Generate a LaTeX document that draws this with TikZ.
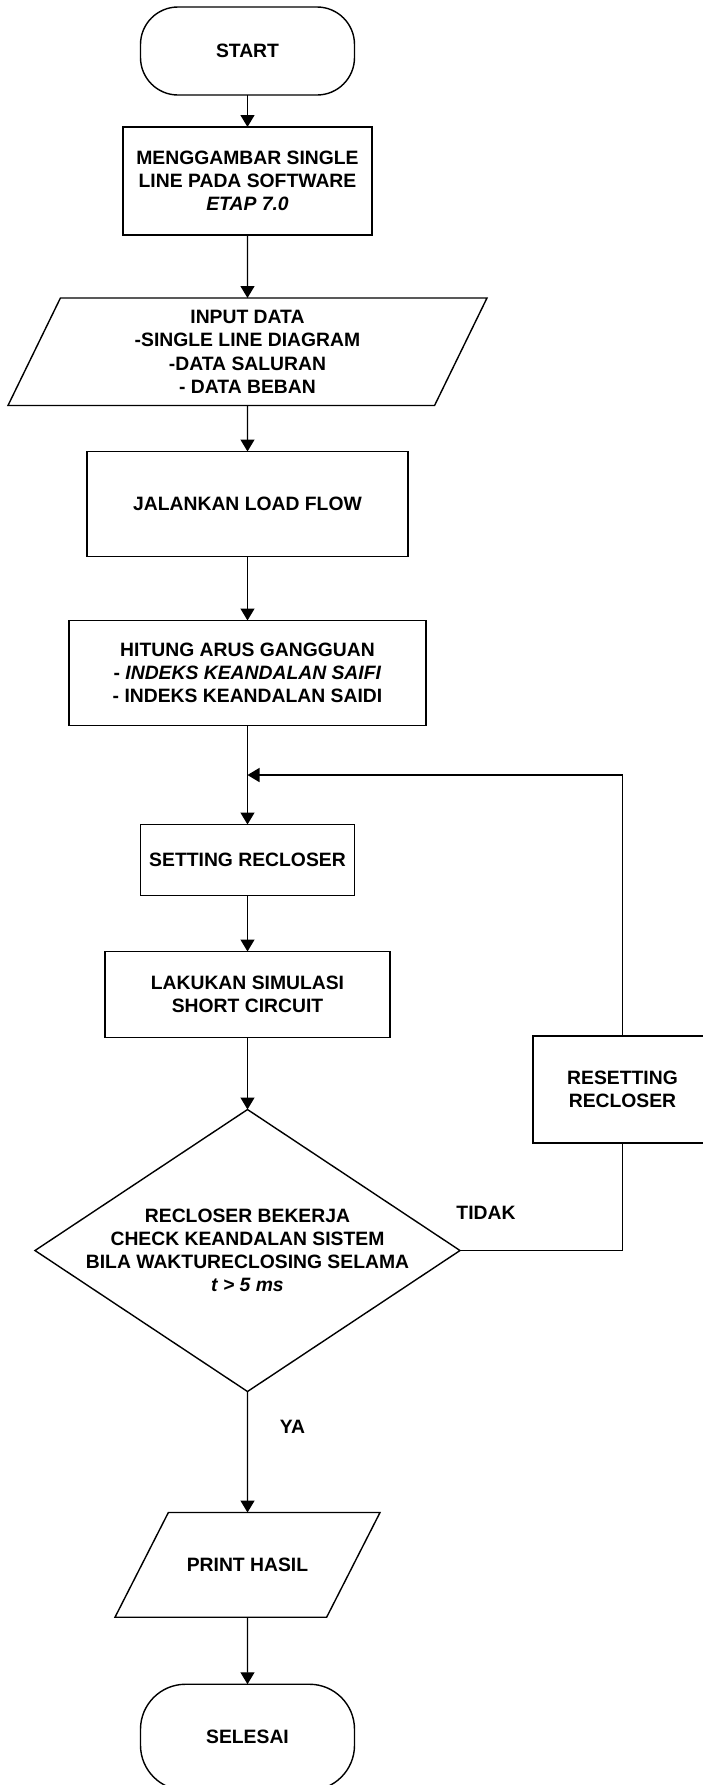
\documentclass[tikz,border=0pt]{standalone}
\usepackage{fontspec}
\setmainfont{Liberation Sans}
\usetikzlibrary{arrows.meta}
\usetikzlibrary{positioning, shapes.geometric, calc}

\begin{document}
\begin{tikzpicture}[
  >={Triangle[length=2.4mm,width=2.8mm]}, line width=0.8pt,
  every node/.style={font=\bfseries\fontsize{11}{13.2}\selectfont,
    align=center, outer sep=0pt},
  term/.style={draw, rectangle, rounded corners=7.5mm, minimum width=42.8mm},
  proc/.style={draw, rectangle, inner sep=2pt},
  io/.style={draw, trapezium, trapezium left angle=64,
    trapezium right angle=116, trapezium stretches body, inner xsep=2pt},
  decision/.style={draw, diamond, inner sep=0pt}
]

\useasboundingbox (0,0) rectangle (14.06,-35.7);

% --- Main column ---
\node[term, minimum height=17.6mm] (start) at (4.95,-1.02) {START};
\node[proc, below=6.4mm of start, minimum width=49.8mm, minimum height=21.6mm] (gambar)
  {MENGGAMBAR SINGLE\\LINE PADA SOFTWARE\\\textit{ETAP 7.0}};
\node[io, inner ysep=7pt, below=12.6mm of gambar, minimum width=95.8mm] (input)
  {INPUT DATA\\-SINGLE LINE DIAGRAM\\-DATA SALURAN\\- DATA BEBAN};
\node[proc, below=9.2mm of input, minimum width=64.2mm, minimum height=21mm] (jalan)
  {JALANKAN LOAD FLOW};
\node[proc, below=12.8mm of jalan, minimum width=71.4mm, minimum height=21mm] (hitung)
  {HITUNG ARUS GANGGUAN\\- \textit{INDEKS KEANDALAN SAIFI}\\- INDEKS KEANDALAN SAIDI};
\node[proc, below=19.8mm of hitung, minimum width=42.8mm, minimum height=14.2mm] (setting)
  {SETTING RECLOSER};
\node[proc, below=11.2mm of setting, minimum width=57mm, minimum height=17.2mm] (simulasi)
  {LAKUKAN SIMULASI\\SHORT CIRCUIT};
\node[decision, below=14.4mm of simulasi, minimum width=85mm, minimum height=56.4mm] (dec) {};
\node (dectext) at (dec.center)
  {RECLOSER BEKERJA\\CHECK KEANDALAN SISTEM\\BILA WAKTURECLOSING SELAMA\\\textit{t > 5 ms}};
\node[io, trapezium left angle=63, trapezium right angle=117, inner ysep=25.9pt,
  below=24.2mm of dec, minimum width=53mm] (print) {PRINT HASIL};
\node[term, rounded corners=9mm, below=13.4mm of print, minimum height=21.2mm] (selesai) {SELESAI};

% --- Side branch ---
\node[proc, minimum width=35.8mm, minimum height=21.4mm] (reset) at (12.45,-21.79)
  {RESETTING\\RECLOSER};
\coordinate (join) at ($(hitung.south)!0.5!(setting.north)$);

% --- Connectors ---
\path[->]
  (start) edge (gambar)
  (gambar) edge (input)
  (input) edge (jalan)
  (jalan) edge (hitung)
  (hitung) edge (setting)
  (setting) edge (simulasi)
  (simulasi) edge (dec)
  (dec) edge node[pos=0.29, xshift=9mm] {YA} (print)
  (print) edge (selesai);

\draw (dec.east) -| node[pos=0.08, yshift=7.6mm] {TIDAK} (reset.south);
\draw[->] (reset.north) |- (join);

\end{tikzpicture}
\end{document}
